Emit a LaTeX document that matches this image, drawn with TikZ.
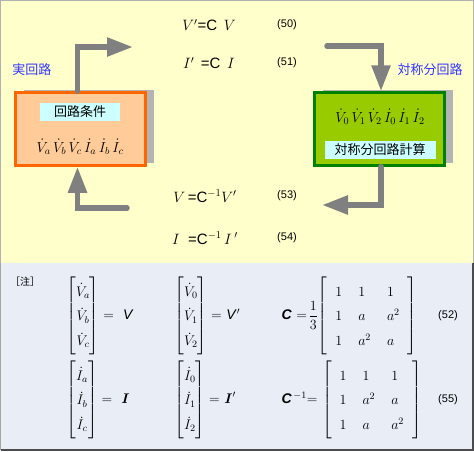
\RequirePackage{fix-cm}
\documentclass[tikz,border=0pt]{standalone}
\usepackage{amsmath}
\usepackage{fontspec}
\setsansfont{Liberation Sans}
\newfontfamily\jp{Noto Sans CJK JP}
\usetikzlibrary{arrows.meta,shadows}
\definecolor{paneltop}{HTML}{FFFFCC}
\definecolor{panelbot}{HTML}{E8EDF6}
\definecolor{realfill}{HTML}{FFCC99}
\definecolor{realedge}{HTML}{FF6600}
\definecolor{symfill}{HTML}{99CC00}
\definecolor{symedge}{HTML}{008000}
\definecolor{tagfill}{HTML}{CCFFFF}
\definecolor{flow}{HTML}{808080}
\definecolor{shade}{HTML}{B4B4B4}
\definecolor{caption}{HTML}{3333FF}

\begin{document}
\begin{tikzpicture}[x=1pt,y=-1pt,
  block/.style={draw,line width=2.5pt,minimum width=130pt,minimum height=73pt,
    drop shadow={shadow xshift=8pt,shadow yshift=3pt,fill=shade,opacity=1}},
  tag/.style={fill=tagfill,inner sep=0pt,font=\jp\fontsize{13}{15}\selectfont},
  flowline/.style={flow,line width=5.5pt,line cap=round,-{Triangle[length=26pt,width=18pt]}},
  eqn/.style={font=\sffamily\fontsize{15}{17}\selectfont},
  eqno/.style={font=\sffamily\fontsize{11}{13}\selectfont},
  vars/.style={font=\fontsize{14.5}{17}\selectfont},
  mtx/.style={anchor=west,font=\fontsize{14}{16}\selectfont}]
\useasboundingbox (0,0) rectangle (474,451);
% panels
\fill[paneltop] (0,0) rectangle (474,263);
\draw[gray!60] (0.5,0.5) rectangle (473.5,263);
\fill[panelbot] (0,263) rectangle (474,451);
\draw[gray!70] (0.5,263) -- (0.5,450);
\draw[black!70,line width=1.5pt] (0.5,450.2) -- (472.8,450.2) -- (472.8,263);
% blocks
\node[block,draw=realedge,fill=realfill] (real) at (80.5,129) {};
\node[block,draw=symedge,fill=symfill] (sym) at (379.5,129) {};
\node[tag,minimum width=80pt,minimum height=18pt] (realtag) at (80,112) {回路条件};
\node[vars] (realvars) at (80,147)
  {$\dot V_a\,\dot V_b\,\dot V_c\,\dot I_a\,\dot I_b\,\dot I_c$};
\node[vars] (symvars) at (380,117)
  {$\dot V_0\,\dot V_1\,\dot V_2\,\dot I_0\,\dot I_1\,\dot I_2$};
\node[tag,minimum width=111pt,minimum height=18pt] (symtag) at (380,150) {対称分回路計算};
\node[font=\jp\fontsize{13}{15}\selectfont,text=caption] (realcap) at (32,70) {実回路};
\node[font=\jp\fontsize{13}{15}\selectfont,text=caption] (symcap) at (430,70) {対称分回路};
% equations
\node[eqn] (eqa) at (209,25) {$V'$=C\ \,$V$};
\node[eqn] (eqb) at (209,63) {$I'$\,\ =C\ \,$I$};
\node[eqn] (eqc) at (205,196) {$V$\,=C$^{-1}$$V'$};
\node[eqn] (eqd) at (205,238) {$I$\ \ =C$^{-1}$\,$I\,'$};
\node[eqno] (noa) at (287,25) {(50)};
\node[eqno] (nob) at (287,63) {(51)};
\node[eqno] (noc) at (287,196) {(53)};
\node[eqno] (nod) at (287,238) {(54)};
% flow arrows
\coordinate (toeq) at (133,47);
\coordinate (fromeq) at (327,46);
\coordinate (backeq) at (322,205);
\coordinate (fromback) at (127,208);
\draw[flowline] ([xshift=-3pt]real.north) |- (toeq);
\draw[flowline] (fromeq) -| ([xshift=1.5pt]sym.north);
\draw[flowline] ([xshift=1.5pt]sym.south) |- (backeq);
\draw[flowline] (fromback) -| ([xshift=-3pt]real.south);
% notes
\node[font=\jp\fontsize{10}{12}\selectfont] (note) at (25,282) {［注］};
\renewcommand{\arraystretch}{1.55}
\node[mtx] (vabc) at (63,316)
  {$\begin{bmatrix}\dot V_a\\ \dot V_b\\ \dot V_c\end{bmatrix}=$\ \ \textsf{\textit{V}}};
\node[mtx] (vsym) at (171,316)
  {$\begin{bmatrix}\dot V_0\\ \dot V_1\\ \dot V_2\end{bmatrix}=$ \textsf{\textit{V}}$'$};
\node[mtx] (iabc) at (63,400)
  {$\begin{bmatrix}\dot I_a\\ \dot I_b\\ \dot I_c\end{bmatrix}=$\ \ $\boldsymbol{I}$};
\node[mtx] (isym) at (171,400)
  {$\begin{bmatrix}\dot I_0\\ \dot I_1\\ \dot I_2\end{bmatrix}=$ $\boldsymbol{I}'$};
\setlength{\arraycolsep}{8pt}
\node[mtx] (cmat) at (278,316)
  {\textsf{\textbf{\textit{C}}} $=\!\dfrac{1}{3}\!\left[\begin{array}{lll}1&1&1\\1&a&a^2\\1&a^2&a\end{array}\right]$};
\node[mtx] (cinv) at (278,400)
  {\textsf{\textbf{\textit{C}}}$^{\,-1}$= $\left[\begin{array}{lll}1&1&1\\1&a^2&a\\1&a&a^2\end{array}\right]$};
\node[eqno] (nob2) at (448,316) {(52)};
\node[eqno] (noe) at (448,400) {(55)};
\end{tikzpicture}
\end{document}
